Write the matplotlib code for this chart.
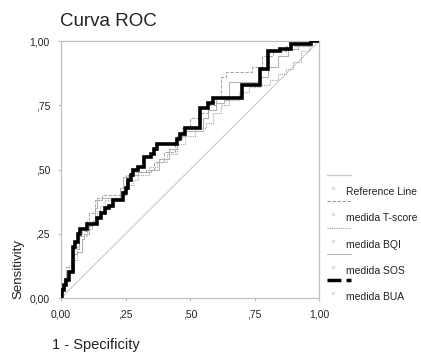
import numpy as np
import matplotlib
matplotlib.use("Agg")
import matplotlib.pyplot as plt
from matplotlib.lines import Line2D

plt.rcParams["font.family"] = ["Liberation Sans", "DejaVu Sans"]

# --- data ---
ticks = [0.0, 0.25, 0.50, 0.75, 1.0]
tick_labels = ["0,00", ",25", ",50", ",75", "1,00"]

ref_x = [0.0, 1.0]
ref_y = [0.0, 1.0]

bua_x = [0, 0.005, 0.005, 0.01, 0.01, 0.02, 0.02, 0.03, 0.03, 0.045, 0.045, 0.055, 0.055,
         0.065, 0.065, 0.075, 0.075, 0.10, 0.10, 0.14, 0.14, 0.155, 0.155, 0.17, 0.17,
         0.185, 0.185, 0.20, 0.20, 0.24, 0.24, 0.25, 0.25, 0.26, 0.26, 0.27, 0.27, 0.28,
         0.28, 0.30, 0.30, 0.32, 0.32, 0.35, 0.35, 0.36, 0.36, 0.37, 0.37, 0.45, 0.45,
         0.46, 0.46, 0.48, 0.48, 0.54, 0.54, 0.57, 0.57, 0.59, 0.59, 0.70, 0.70, 0.77,
         0.77, 0.80, 0.80, 0.85, 0.85, 0.89, 0.89, 0.97, 0.97, 1.0]
bua_y = [0, 0, 0.03, 0.03, 0.05, 0.05, 0.07, 0.07, 0.10, 0.10, 0.20, 0.20, 0.22,
         0.22, 0.25, 0.25, 0.27, 0.27, 0.29, 0.29, 0.31, 0.31, 0.33, 0.33, 0.35,
         0.35, 0.36, 0.36, 0.38, 0.38, 0.41, 0.41, 0.43, 0.43, 0.46, 0.46, 0.48, 0.48,
         0.50, 0.50, 0.51, 0.51, 0.55, 0.55, 0.56, 0.56, 0.58, 0.58, 0.60, 0.60, 0.62,
         0.62, 0.64, 0.64, 0.66, 0.66, 0.74, 0.74, 0.76, 0.76, 0.78, 0.78, 0.83, 0.83,
         0.89, 0.89, 0.96, 0.96, 0.97, 0.97, 0.99, 0.99, 1.0, 1.0]

tscore_x = [0, 0.01, 0.02, 0.03, 0.05, 0.05, 0.07, 0.08, 0.10, 0.11, 0.13, 0.14, 0.16,
            0.22, 0.25, 0.25, 0.27, 0.33, 0.36, 0.40, 0.44, 0.47, 0.50, 0.53, 0.57, 0.60,
            0.62, 0.64, 0.67, 0.74, 0.78, 0.82, 0.87, 0.92, 0.96, 1.0]
tscore_y = [0, 0.03, 0.08, 0.12, 0.12, 0.17, 0.19, 0.24, 0.26, 0.30, 0.33, 0.38, 0.39,
            0.40, 0.40, 0.47, 0.48, 0.49, 0.50, 0.53, 0.57, 0.62, 0.66, 0.70, 0.72, 0.75,
            0.78, 0.86, 0.88, 0.88, 0.90, 0.94, 0.96, 0.98, 0.99, 1.0]

sos_x = [0, 0.02, 0.03, 0.05, 0.06, 0.08, 0.09, 0.11, 0.12, 0.13, 0.14, 0.16, 0.20,
         0.23, 0.24, 0.26, 0.28, 0.30, 0.35, 0.38, 0.42, 0.45, 0.48, 0.50, 0.55, 0.57,
         0.60, 0.63, 0.65, 0.67, 0.77, 0.80, 0.84, 0.88, 0.92, 0.97, 1.0]
sos_y = [0, 0.05, 0.10, 0.10, 0.17, 0.18, 0.23, 0.25, 0.28, 0.30, 0.35, 0.38, 0.39,
         0.39, 0.43, 0.47, 0.48, 0.48, 0.49, 0.50, 0.54, 0.58, 0.63, 0.65, 0.65, 0.70,
         0.73, 0.76, 0.77, 0.84, 0.84, 0.86, 0.90, 0.94, 0.97, 0.98, 1.0]

bqi_x = [0, 0.01, 0.03, 0.04, 0.06, 0.07, 0.10, 0.12, 0.14, 0.15, 0.17, 0.20, 0.24,
         0.26, 0.28, 0.30, 0.34, 0.37, 0.41, 0.45, 0.48, 0.52, 0.56, 0.59, 0.62, 0.65,
         0.69, 0.73, 0.77, 0.81, 0.84, 0.87, 0.90, 0.93, 0.96, 1.0]
bqi_y = [0, 0.04, 0.08, 0.13, 0.15, 0.20, 0.24, 0.27, 0.30, 0.34, 0.36, 0.38, 0.39,
         0.42, 0.44, 0.46, 0.48, 0.51, 0.53, 0.56, 0.60, 0.63, 0.66, 0.68, 0.72, 0.75,
         0.77, 0.80, 0.82, 0.83, 0.85, 0.87, 0.89, 0.92, 0.96, 1.0]

legend_labels = ["Reference Line", "medida T-score", "medida BQI", "medida SOS", "medida BUA"]

# --- figure ---
fig = plt.figure(figsize=(4.21, 3.54), dpi=100)
ax = fig.add_axes([0.145, 0.158, 0.613, 0.726])

ax.plot(ref_x, ref_y, color="#d0d0d0", lw=0.9, zorder=1)
ax.plot(sos_x, sos_y, color="#b4b4b4", lw=0.8, drawstyle="steps-pre", zorder=2)
ax.plot(bqi_x, bqi_y, color="#a8a8a8", lw=0.8, ls=(0, (1, 1)), drawstyle="steps-pre", zorder=2)
ax.plot(tscore_x, tscore_y, color="#a8a8a8", lw=0.8, ls=(0, (3, 1.5)), drawstyle="steps-pre", zorder=2)
ax.plot(bua_x, bua_y, color="black", lw=2.6, solid_joinstyle="miter", zorder=3)

ax.set_xlim(0, 1)
ax.set_ylim(0, 1)
ax.set_xticks(ticks)
ax.set_xticklabels(tick_labels)
ax.set_yticks(ticks)
ax.set_yticklabels(tick_labels)
ax.tick_params(labelsize=7.5, length=2, color="#bbbbbb", pad=6, labelcolor="#222222")
for s in ax.spines.values():
    s.set_color("#c0c0c0")
    s.set_linewidth(0.9)

fig.text(0.143, 0.938, "Curva ROC", fontsize=13.5, va="center", ha="left", color="#222222")
fig.text(0.124, 0.025, "1 - Specificity", fontsize=10.5, va="center", ha="left", color="#222222")
fig.text(0.043, 0.24, "Sensitivity", fontsize=9.5, va="center", ha="center",
         rotation=90, color="#222222")

# --- legend (drawn by hand, SPSS style) ---
leg_styles = [
    dict(color="#c8c8c8", lw=0.9, ls="-"),
    dict(color="#999999", lw=0.8, ls=(0, (3, 1.5))),
    dict(color="#999999", lw=0.8, ls=(0, (1, 1))),
    dict(color="#bbbbbb", lw=0.8, ls="-"),
    dict(color="black", lw=2.5, ls=(0, (4, 1.5, 1.5, 1.5))),
]
line_y = [175, 201, 228, 254, 280]
for i, (lab, st) in enumerate(zip(legend_labels, leg_styles)):
    yl = 1 - line_y[i] / 354
    yt = 1 - (line_y[i] + 17) / 354
    fig.add_artist(Line2D([327 / 421, 351 / 421], [yl, yl], transform=fig.transFigure, **st))
    fig.add_artist(Line2D([333 / 421], [yt + 0.01], transform=fig.transFigure, marker="s",
                          ms=1.8, mfc="white", mec="#c8c8c8", mew=0.5, ls="none"))
    fig.text(346 / 421, yt, lab, fontsize=7.5, va="center", ha="left", color="#222222")

fig.savefig("out.png", dpi=100)
